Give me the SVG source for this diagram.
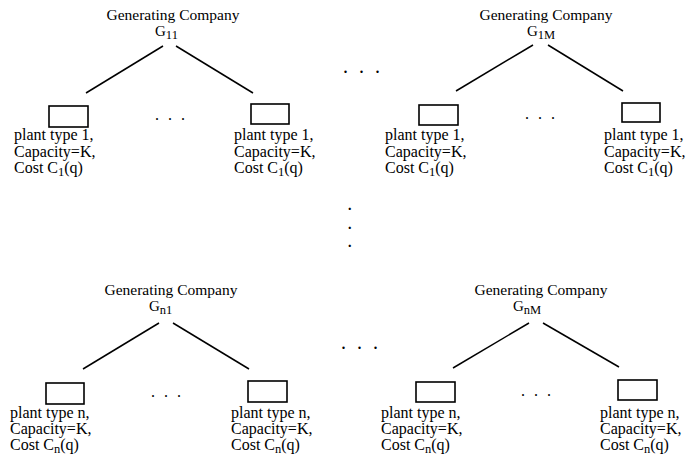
<svg xmlns="http://www.w3.org/2000/svg" width="689" height="457" viewBox="0 0 689 457">
<style>
text{font-family:"Liberation Serif","Times New Roman",serif;fill:#000}
.t{font-size:15.5px;text-anchor:middle}
.l{font-size:16px}
.g{font-size:15px}
.s{font-size:12.5px}
.box{fill:#fff;stroke:#000;stroke-width:1.6}
.c line{stroke:#000;stroke-width:1.5}
.d{font-size:16px;letter-spacing:9px}
.D{font-size:20px;letter-spacing:11px}
.v{font-size:14px;font-weight:bold}
</style>
<rect width="689" height="457" fill="#fff"/>
<g class="c" id="connectors">
<line x1="163" y1="46" x2="86" y2="93"/>
<line x1="176" y1="46" x2="253" y2="93"/>
<line x1="533" y1="45" x2="456" y2="91"/>
<line x1="548" y1="45" x2="623" y2="91"/>
<line x1="159" y1="323" x2="83" y2="369"/>
<line x1="173" y1="323" x2="249" y2="369"/>
<line x1="529" y1="323" x2="453" y2="368"/>
<line x1="543" y1="323" x2="619" y2="367"/>
</g>
<g id="G11"><text class="t" x="173" y="20">Generating Company</text><text class="g" x="155" y="36">G<tspan class="s" dy="3">11</tspan></text></g>
<g id="G1M"><text class="t" x="546" y="20">Generating Company</text><text class="g" x="527" y="36">G<tspan class="s" dy="3">1M</tspan></text></g>
<g id="Gn1"><text class="t" x="171" y="295">Generating Company</text><text class="g" x="149" y="311">G<tspan class="s" dy="3">n1</tspan></text></g>
<g id="GnM"><text class="t" x="541" y="295">Generating Company</text><text class="g" x="513" y="311">G<tspan class="s" dy="3">nM</tspan></text></g>
<g id="p11a"><rect class="box" x="49" y="106" width="39" height="21"/><text class="l" x="14" y="140">plant type 1,</text><text class="l" x="14" y="157">Capacity=K,</text><text class="l" x="14" y="173">Cost C<tspan class="s" dy="3">1</tspan><tspan dy="-3">(q)</tspan></text></g>
<g id="p11b"><rect class="box" x="251" y="104" width="38" height="20"/><text class="l" x="234" y="140">plant type 1,</text><text class="l" x="234" y="157">Capacity=K,</text><text class="l" x="234" y="173">Cost C<tspan class="s" dy="3">1</tspan><tspan dy="-3">(q)</tspan></text></g>
<g id="p1Ma"><rect class="box" x="419" y="105" width="39" height="20"/><text class="l" x="385" y="140">plant type 1,</text><text class="l" x="385" y="157">Capacity=K,</text><text class="l" x="385" y="173">Cost C<tspan class="s" dy="3">1</tspan><tspan dy="-3">(q)</tspan></text></g>
<g id="p1Mb"><rect class="box" x="622" y="103" width="38" height="19"/><text class="l" x="604" y="140">plant type 1,</text><text class="l" x="604" y="157">Capacity=K,</text><text class="l" x="604" y="173">Cost C<tspan class="s" dy="3">1</tspan><tspan dy="-3">(q)</tspan></text></g>
<g id="pn1a"><rect class="box" x="46" y="383" width="38" height="21"/><text class="l" x="10" y="418">plant type n,</text><text class="l" x="10" y="434">Capacity=K,</text><text class="l" x="10" y="450">Cost C<tspan class="s" dy="3">n</tspan><tspan dy="-3">(q)</tspan></text></g>
<g id="pn1b"><rect class="box" x="248" y="381" width="39" height="21"/><text class="l" x="231" y="418">plant type n,</text><text class="l" x="231" y="434">Capacity=K,</text><text class="l" x="231" y="450">Cost C<tspan class="s" dy="3">n</tspan><tspan dy="-3">(q)</tspan></text></g>
<g id="pnMa"><rect class="box" x="416" y="382" width="39" height="20"/><text class="l" x="381" y="418">plant type n,</text><text class="l" x="381" y="434">Capacity=K,</text><text class="l" x="381" y="450">Cost C<tspan class="s" dy="3">n</tspan><tspan dy="-3">(q)</tspan></text></g>
<g id="pnMb"><rect class="box" x="618" y="380" width="39" height="20"/><text class="l" x="600" y="418">plant type n,</text><text class="l" x="600" y="434">Capacity=K,</text><text class="l" x="600" y="450">Cost C<tspan class="s" dy="3">n</tspan><tspan dy="-3">(q)</tspan></text></g>
<g id="ellipses">
<text class="d" x="155" y="120">...</text>
<text class="d" x="525" y="119">...</text>
<text class="d" x="151" y="397">...</text>
<text class="d" x="521" y="396">...</text>
<text class="D" x="343" y="73">...</text>
<text class="D" x="341" y="349">...</text>
<text class="v" x="348" y="210">.</text>
<text class="v" x="348" y="229">.</text>
<text class="v" x="348" y="247">.</text>
</g>
</svg>
